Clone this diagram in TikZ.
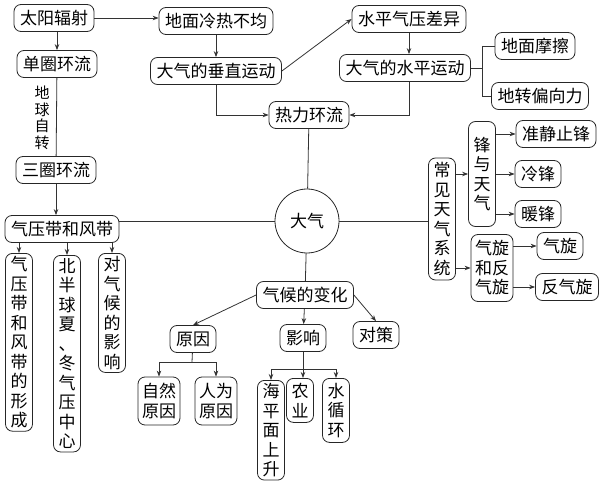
\documentclass[tikz,border=0pt]{standalone}
\usepackage{fontspec}
\newfontfamily\cjk{Noto Sans CJK SC}
\usetikzlibrary{arrows.meta,
                    calc}
\tikzset{
caixa/.style={draw=black!85, line width=0.8pt, rounded corners=7pt,
              inner xsep=6pt, inner ysep=2pt, minimum height=27pt,
              font=\cjk\fontsize{17}{19.5}\selectfont}
                }
\tikzset{
vcaixa/.style={caixa, align=center, inner xsep=5pt, inner ysep=3pt, text width=17pt}
         }
\tikzset{
seta/.style={-{Stealth[length=6pt,width=4.5pt]}, line width=0.8pt, draw=black!80},
linha/.style={line width=0.8pt, draw=black!80}
         }

\begin{document}
\begin{tikzpicture}[x=1pt,y=-1pt]
    \useasboundingbox (0,0) rectangle (610,481);

          % CIRCULACAO
    \node[caixa] (taiyang) at (54,18) {太阳辐射};
    \node[caixa] (lengre) at (216,21) {地面冷热不均};
    \node[caixa] (chuizhi) at (216,71) {大气的垂直运动};
    \node[caixa] (qiya) at (409,19) {水平气压差异};
    \node[caixa] (shuiping) at (405,68) {大气的水平运动};
    \node[caixa] (mocha) at (535,46) {地面摩擦};
    \node[caixa] (pianxiang) at (540,96) {地转偏向力};
    \node[caixa] (reli) at (309,115) {热力环流};

    \draw[seta] (taiyang.east) -- (taiyang.east -| lengre.west);
    \draw[seta] (lengre) -- (chuizhi);
    \draw[seta] (chuizhi.east) -- (qiya.west);
    \draw[seta] (qiya) -- (qiya |- shuiping.north);
    \draw[seta] (chuizhi.south) |- (reli.west);
    \draw[seta] (shuiping.south -| qiya) |- (reli.east);

    \coordinate (CB) at (482,68);
    \draw[linha] (shuiping.east) -- (CB);
    \draw[linha] (CB |- mocha) -- (CB |- pianxiang);
    \draw[linha] (CB |- mocha) -- (mocha.west);
    \draw[linha] (CB |- pianxiang) -- (pianxiang.west);


          % ATMOSFERA
    \node[draw=black!85, line width=0.8pt, circle, minimum size=64pt,
          font=\cjk\fontsize{17}{19.5}\selectfont] (daqi) at (307,221) {大气};
    \draw[linha] (reli) -- (daqi);


          % CINTUROES DE PRESSAO
    \node[caixa] (danquan) at (57,64) {单圈环流};
    \node[caixa] (sanquan) at (56,170) {三圈环流};
    \node[align=center, font=\cjk\fontsize{15}{16.5}\selectfont] (zizhuan) at (42,118) {地\\球\\自\\转};
    \node[caixa] (fengdai) at (62,229) {气压带和风带};
    \node[vcaixa, anchor=north, minimum height=172pt] (xingcheng) at (19,253) {气\\压\\带\\和\\风\\带\\的\\形\\成};
    \node[vcaixa, anchor=north, minimum height=178pt] (zhongxin) at (67,255) {北\\半\\球\\夏\\、\\冬\\气\\压\\中\\心};
    \node[vcaixa, anchor=north, minimum height=119pt] (qihou) at (112,253) {对\\气\\候\\的\\影\\响};

    \draw[seta] (taiyang.south -| danquan) -- (danquan.north);
    \draw[linha] (danquan) -- (sanquan);
    \draw[seta] (sanquan.south) -- (sanquan.south |- fengdai.north);
    \draw[seta] (fengdai.south -| xingcheng) -- (xingcheng.north);
    \draw[seta] (fengdai.south -| zhongxin) -- (zhongxin.north);
    \draw[seta] (fengdai.south -| qihou) -- (qihou.north);
    \draw[linha] (daqi.west) -- (daqi.west -| fengdai.east);


          % SISTEMAS DE TEMPO
    \node[vcaixa, minimum height=122pt] (tianqi) at (442,219) {常\\见\\天\\气\\系\\统};
    \node[vcaixa, minimum height=105pt] (feng) at (482,174) {锋\\与\\天\\气};
    \node[caixa, align=center, inner xsep=4pt, minimum height=67pt] (xuanqi) at (492,268) {气旋\\和反\\气旋};
    \node[caixa] (zhunjing) at (556,134) {准静止锋};
    \node[caixa] (lengfeng) at (538,174) {冷锋};
    \node[caixa] (nuanfeng) at (538,214) {暖锋};
    \node[caixa] (qixuan) at (560,246) {气旋};
    \node[caixa] (fanqixuan) at (567,287) {反气旋};

    \draw[linha] (daqi.east) -- (daqi.east -| tianqi.west);
    \draw[seta] (feng.west -| tianqi.east) -- (feng.west);
    \draw[seta] (xuanqi.west -| tianqi.east) -- (xuanqi.west);
    \draw[seta] (zhunjing.west -| feng.east) -- (zhunjing.west);
    \draw[seta] (lengfeng.west -| feng.east) -- (lengfeng.west);
    \draw[seta] (nuanfeng.west -| feng.east) -- (nuanfeng.west);
    \draw[seta] (qixuan.west -| xuanqi.east) -- (qixuan.west);
    \draw[seta] (fanqixuan.west -| xuanqi.east) -- (fanqixuan.west);


          % MUDANCA CLIMATICA
    \node[caixa] (bianhua) at (305,295) {气候的变化};
    \node[caixa] (yuanyin) at (193,339) {原因};
    \node[caixa] (yingxiang) at (303,338) {影响};
    \node[caixa] (duice) at (376,335) {对策};
    \node[caixa, align=center, inner xsep=4pt, minimum height=48pt] (ziran) at (159,401) {自然\\原因};
    \node[caixa, align=center, inner xsep=4pt, minimum height=48pt] (renwei) at (216,401) {人为\\原因};
    \node[vcaixa, anchor=north, minimum height=97pt] (haiping) at (271,380) {海\\平\\面\\上\\升};
    \node[vcaixa, anchor=north, minimum height=44pt] (nongye) at (300,378) {农\\业};
    \node[vcaixa, anchor=north, minimum height=64pt] (xunhuan) at (336,378) {水\\循\\环};

    \draw[linha] (daqi) -- (bianhua);
    \draw[seta] (bianhua.west) -- (yuanyin.north);
    \draw[seta] (bianhua) -- (yingxiang);
    \draw[seta] (bianhua.east) -- (duice.north);

    \coordinate (RY) at (192,362);
    \draw[linha] (yuanyin) -- (RY);
    \draw[seta] (RY) -| (ziran.north);
    \draw[seta] (RY) -| (renwei.north);

    \coordinate (YX) at (303,369);
    \draw[linha] (yingxiang) -- (YX);
    \draw[seta] (YX) -| (haiping.north);
    \draw[seta] (YX) -- (YX |- nongye.north);
    \draw[seta] (YX) -| (xunhuan.north);

    \end{tikzpicture}
\end{document}
